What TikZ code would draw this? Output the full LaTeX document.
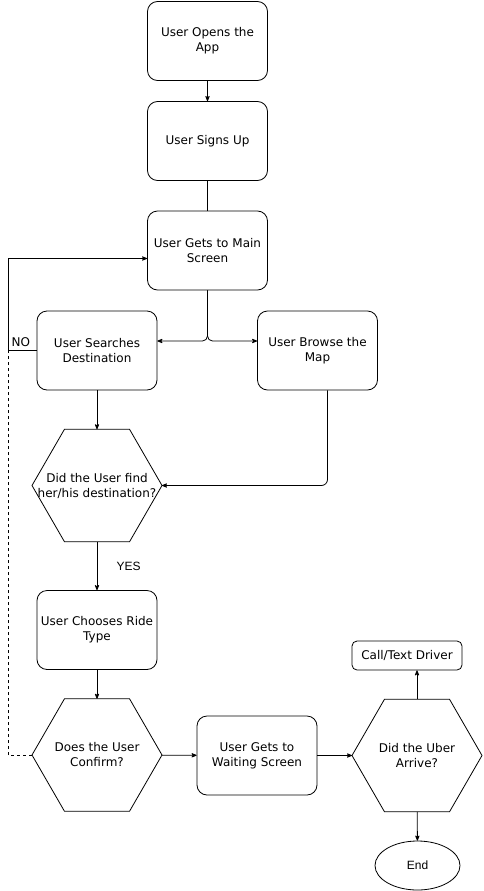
\documentclass[tikz,border=0pt]{standalone}
\usepackage{fontspec}
\setmainfont{DejaVu Sans}
\newfontfamily\yesfont{Liberation Sans}
\usepackage{tikz}
\usetikzlibrary{arrows,shapes.geometric}

\begin{document}
\begin{tikzpicture}[->,>={stealth'[scale=1.4]},x=1pt,y=-1pt,thick,
		font=\fontsize{12}{15}\selectfont]
		\tikzstyle{process}=[draw=black,fill=white,rounded corners=10pt,align=center,
			minimum width=120pt,minimum height=79pt,inner sep=2pt]
		\tikzstyle{decision}=[draw=black,fill=white,regular polygon,regular polygon sides=6,
			minimum size=130pt,inner sep=0pt,outer sep=0pt]
		\tikzstyle{terminal}=[draw=black,fill=white,ellipse,minimum width=85pt,
			minimum height=49pt,font=\yesfont\fontsize{12}{15}\selectfont]
		\tikzstyle{small box}=[draw=black,fill=white,rounded corners=5pt,
			minimum width=110pt,minimum height=29pt]
		\useasboundingbox (0,0) rectangle (483,891);

		\node[process] (open) at (207.5,41) {User Opens the\\App};
		\node[process] (signup) at (207.5,141) {User Signs Up};
		\node[process] (mainscr) at (207.5,250.5) {User Gets to Main\\Screen};
		\node[process] (search) at (97,350.5) {User Searches\\Destination};
		\node[process] (browse) at (317.5,350.5) {User Browse the\\Map};
		\node[decision,label={[align=center]center:Did the User find\\her/his destination?}]
			(found) at (97,485.5) {};
		\node[process] (choose) at (97,630) {User Chooses Ride\\Type};
		\node[decision,label={[align=center]center:Does the User\\Confirm?}]
			(confirm) at (97,755) {};
		\node[process] (wait) at (257,755.5) {User Gets to\\Waiting Screen};
		\node[decision,label={[align=center]center:Did the Uber\\Arrive?}]
			(arrive) at (417,755.5) {};
		\node[small box] (call) at (407,655.5) {Call/Text Driver};
		\node[terminal] (end) at (417.5,865.5) {End};

		\coordinate (split) at (207,341);
		\coordinate (nobend) at (8,350.5);

		\path (open) edge (signup);
		\path[-] (signup) edge (mainscr);
		\draw[rounded corners=5pt] (mainscr.south) |- (search.east |- split);
		\draw[rounded corners=5pt] (mainscr.south) |- (browse.west |- split);
		\path (search) edge (found);
		\draw[rounded corners=6pt] ([xshift=10pt]browse.south) |- (found.east);
		\path (found) edge node[right=16pt,font=\yesfont\fontsize{12}{15}\selectfont] {YES} (choose);
		\path (choose) edge (confirm);
		\path (confirm) edge (wait);
		\path (wait) edge (arrive);
		\path (arrive.north) edge (arrive.north |- call.south);
		\path (arrive) edge (end);
		\draw (search.west) -- node[above,pos=0.55] {NO} (nobend) |- ([yshift=-8pt]mainscr.west);
		\draw[-,dashed] (confirm.west) -| (nobend);
\end{tikzpicture}
\end{document}
